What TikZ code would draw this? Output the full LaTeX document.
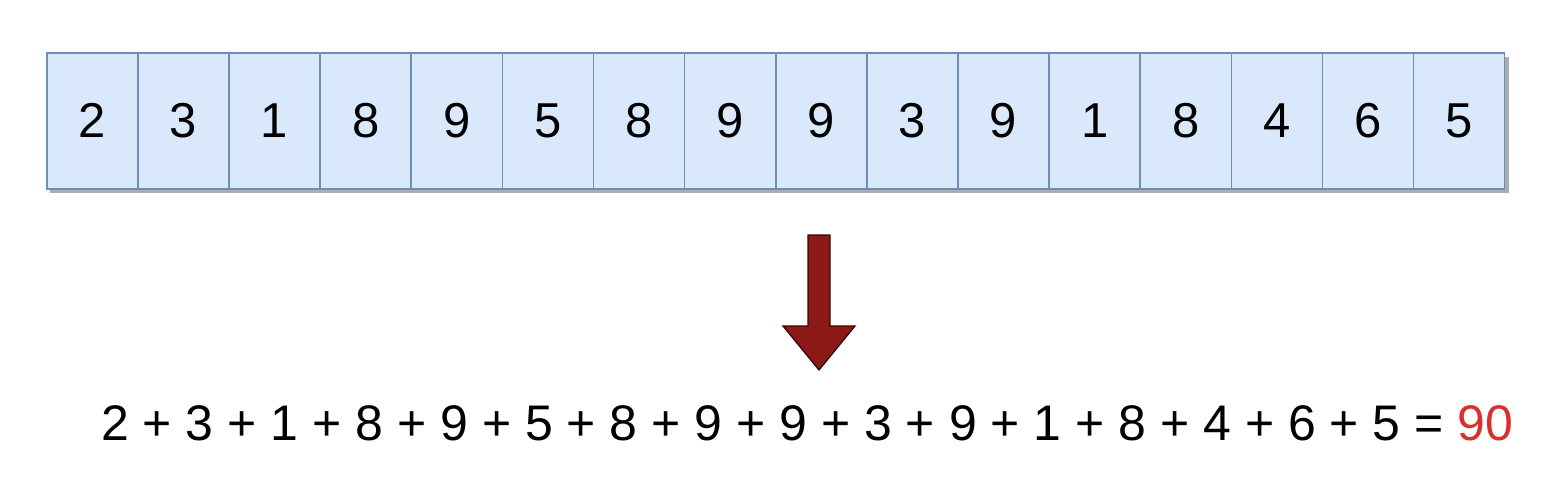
\documentclass[tikz,border=0pt]{standalone}
\usepackage{fontspec}
\setmainfont{Liberation Sans}
\definecolor{cellfill}{HTML}{DAE8FC}
\definecolor{celldraw}{HTML}{6C8EBF}
\definecolor{arrowred}{HTML}{8B1A17}
\definecolor{arrowline}{HTML}{3A0606}
\definecolor{resred}{HTML}{D8312B}
\begin{document}
\begin{tikzpicture}[x=1pt,y=-1pt,
  cell/.style={draw=celldraw,fill=cellfill,line width=1.6pt,minimum width=91pt,minimum height=136pt,inner sep=0pt,anchor=north west,font=\fontsize{49}{54}\selectfont},
  shade/.style={fill=black!32}]
\useasboundingbox (0,0) rectangle (1568,498);
\fill[white] (0,0) rectangle (1568,498);
\fill[shade] (50,57) rectangle (1509,193);
\foreach \v [count=\i from 0] in {2,3,1,8,9,5,8,9,9,3,9,1,8,4,6,5}{
  \node[cell] (c\i) at ({46+91.125*\i},52) {\v};
}
\filldraw[fill=arrowred,draw=arrowline,line width=1.3pt,line join=miter]
  (808,235) -- (830,235) -- (830,326) -- (855,326) -- (819,370) -- (783,326) -- (808,326) -- cycle;
\node[anchor=west,inner sep=0pt,font=\fontsize{50}{56}\selectfont] (sum) at (101,423)
  {2 + 3 + 1 + 8 + 9 + 5 + 8 + 9 + 9 + 3 + 9 + 1 + 8 + 4 + 6 + 5 = \textcolor{resred}{90}};
\end{tikzpicture}
\end{document}
